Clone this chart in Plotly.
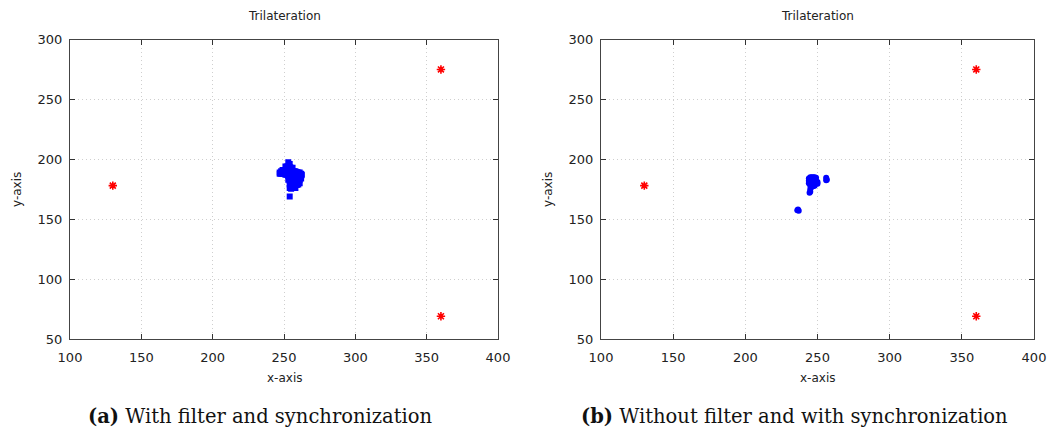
import plotly.graph_objects as go

# Anchor (reference node) positions - same in both panels
anchor_x = [130, 360, 360]
anchor_y = [178, 275, 69]

# Panel (a): with filter and synchronization
filt_x = [253, 254,
          251, 252, 253, 254, 255, 256,
          247, 248, 249, 250, 251, 252, 253, 254, 255, 256, 257, 258, 259, 260, 261, 262,
          247, 248, 249, 250, 251, 252, 253, 254, 255, 256, 257, 258, 259, 260, 261, 262, 262.5,
          253, 254, 255, 256, 257, 258, 259, 260, 261, 262,
          254, 255, 256, 257, 259, 260, 261, 257,
          254, 255, 256, 257, 258,
          254]
filt_y = [197.5, 196,
          194, 194, 194, 193.5, 193, 193,
          189, 190, 191, 191, 191, 190, 191, 190, 191, 190, 190, 190, 189.5, 189, 189, 188,
          188, 188, 188, 188.5, 187, 187, 186, 186, 186, 186.5, 186, 185.5, 186, 186, 186, 186, 187,
          183, 182, 183, 182, 182.5, 183, 182, 182.5, 183, 184,
          179, 179.5, 180, 178, 178.5, 179, 180, 181,
          176, 175.5, 176, 176.5, 176,
          169]

# Panel (b): without filter and with synchronization
nofilt_x = [244, 245, 246, 247, 248, 249,
            244, 245, 246, 247, 248, 249, 250,
            244, 245, 246, 247, 248, 249, 250,
            245, 246, 247, 248,
            245, 245, 244.5,
            256, 256.5, 256,
            236.5, 237, 236]
nofilt_y = [184, 185, 185, 185, 185, 184.5,
            182, 182, 183, 182, 182, 182, 181,
            180, 180, 179, 180, 179, 180, 179.5,
            178, 177, 177.5, 178,
            175, 173, 172,
            184.5, 183, 182.5,
            158, 157, 157.5]

x_ticks = [100, 150, 200, 250, 300, 350, 400]
y_ticks = [50, 100, 150, 200, 250, 300]

panel_titles = ["Trilateration", "Trilateration"]
captions = ["<b>(a)</b> With filter and synchronization",
            "<b>(b)</b> Without filter and with synchronization"]

W, H = 1051, 433

fig = go.Figure()

fig.add_trace(go.Scatter(x=filt_x, y=filt_y, mode="markers", xaxis="x", yaxis="y",
                         marker=dict(symbol="square", size=6, color="#0000ff", line=dict(width=0)),
                         showlegend=False))
fig.add_trace(go.Scatter(x=anchor_x, y=anchor_y, mode="markers", xaxis="x", yaxis="y",
                         marker=dict(symbol="asterisk-open", size=7, color="#ff0000",
                                     line=dict(color="#ff0000", width=1.6)),
                         showlegend=False))
fig.add_trace(go.Scatter(x=nofilt_x, y=nofilt_y, mode="markers", xaxis="x2", yaxis="y2",
                         marker=dict(symbol="circle", size=6, color="#0000ff", line=dict(width=0)),
                         showlegend=False))
fig.add_trace(go.Scatter(x=anchor_x, y=anchor_y, mode="markers", xaxis="x2", yaxis="y2",
                         marker=dict(symbol="asterisk-open", size=7, color="#ff0000",
                                     line=dict(color="#ff0000", width=1.6)),
                         showlegend=False))

tick_font = dict(family="DejaVu Sans", size=13, color="#222")
label_font = dict(family="DejaVu Sans", size=12, color="#222")

def xax(domain, anchor):
    return dict(domain=domain, anchor=anchor, range=[100, 400], tickvals=x_ticks,
                ticks="inside", ticklen=5, tickcolor="#333", mirror="ticks",
                showline=True, linecolor="#444", linewidth=1,
                showgrid=True, gridcolor="#cfcfcf", griddash="1px,3px", gridwidth=1,
                zeroline=False, tickfont=tick_font, automargin=False,
                ticklabelstandoff=6)

def yax(domain, anchor):
    return dict(domain=domain, anchor=anchor, range=[50, 300], tickvals=y_ticks,
                ticks="inside", ticklen=5, tickcolor="#333", mirror="ticks",
                showline=True, linecolor="#444", linewidth=1,
                showgrid=True, gridcolor="#cfcfcf", griddash="1px,3px", gridwidth=1,
                zeroline=False, tickfont=tick_font, automargin=False,
                ticklabelstandoff=4)

ydom = [1 - 339 / H, 1 - 39.5 / H]
fig.update_layout(
    width=W, height=H,
    margin=dict(l=0, r=0, t=0, b=0, autoexpand=False),
    paper_bgcolor="white", plot_bgcolor="white",
    xaxis=xax([70 / W, 498 / W], "y"),
    yaxis=yax(ydom, "x"),
    xaxis2=xax([601 / W, 1034 / W], "y2"),
    yaxis2=yax(ydom, "x2"),
)

def ann(text, x, y, font, angle=0):
    fig.add_annotation(text=text, x=x / W, y=1 - y / H, xref="paper", yref="paper",
                       showarrow=False, xanchor="center", yanchor="middle",
                       textangle=angle, font=font)

# panel titles
ann(panel_titles[0], 284, 16, label_font)
ann(panel_titles[1], 817, 16, label_font)
# axis titles
ann("x-axis", 284, 378, label_font)
ann("x-axis", 817, 378, label_font)
ann("y-axis", 17, 190, label_font, angle=-90)
ann("y-axis", 548, 190, label_font, angle=-90)
# captions
cap_font = dict(family="DejaVu Serif", size=19.5, color="#111")
ann(captions[0], 260, 416, cap_font)
ann(captions[1], 794, 416, cap_font)

fig.write_html("out.html", config={"displayModeBar": False},
               post_script="document.body.style.margin='0px';document.body.style.overflow='hidden';")
